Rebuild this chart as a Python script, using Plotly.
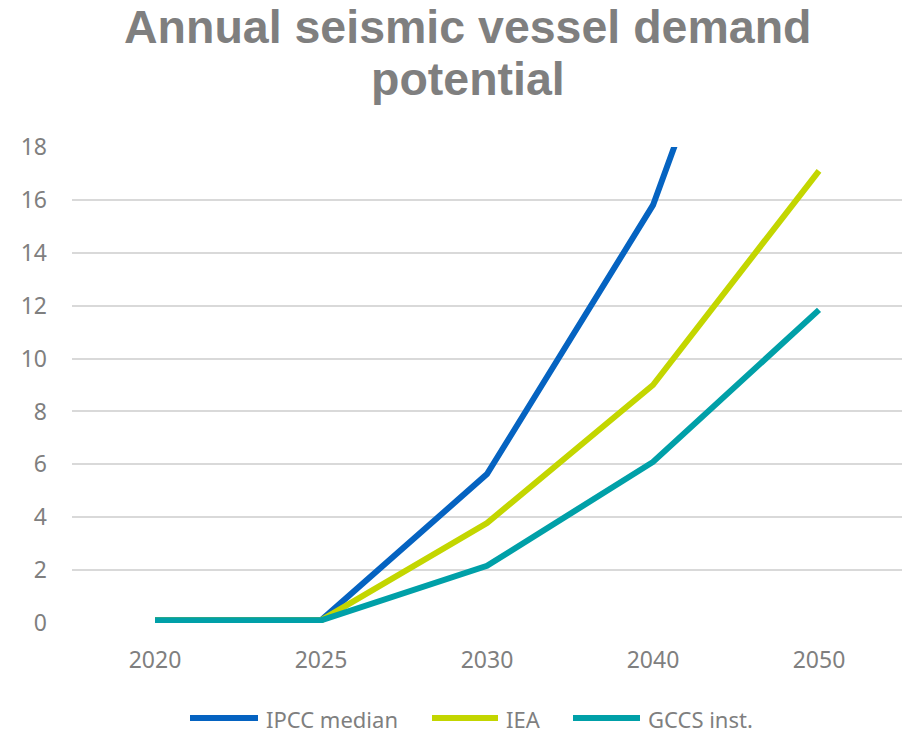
import plotly.graph_objects as go

years = ["2020", "2025", "2030", "2040", "2050"]
ipcc_median = [0.1, 0.1, 5.63, 15.8, 33.0]
iea = [0.1, 0.1, 3.78, 9.0, 17.1]
gccs_inst = [0.1, 0.1, 2.16, 6.09, 11.84]
y_ticks = [0, 2, 4, 6, 8, 10, 12, 14, 16, 18]
series_names = ["IPCC median", "IEA", "GCCS inst."]
series_colors = ["#0563C1", "#C3D600", "#00A0A8"]
series_values = [ipcc_median, iea, gccs_inst]

W, H = 902, 736
ML, MR, MT, MB = 72, 0, 147, 113
PW, PH = W - ML - MR, H - MT - MB

fig = go.Figure()
for name, vals, color in zip(series_names, series_values, series_colors):
    fig.add_trace(go.Scatter(
        x=years, y=vals, name=name, mode="lines",
        line=dict(color=color, width=6), showlegend=False,
    ))

tick_font = dict(family="Noto Sans", size=23, color="#7F7F7F")
title_font = dict(family="Liberation Sans", size=46.5, color="#7F7F7F", weight="bold")

def px_x(x):
    return (x - ML) / PW

def px_y(y):
    return (H - MB - y) / PH

annotations = [
    dict(text="Annual seismic vessel demand", x=px_x(467), y=px_y(27),
         xref="paper", yref="paper", xanchor="center", yanchor="middle",
         showarrow=False, font=title_font),
    dict(text="potential", x=px_x(468), y=px_y(79),
         xref="paper", yref="paper", xanchor="center", yanchor="middle",
         showarrow=False, font=title_font),
]

# custom legend (long line symbols like the original)
legend_items = [(190, 258, 264), (432, 498, 504), (573, 640, 646)]
shapes = []
leg_y = 718
for (x0, x1, xt), name, color in zip(legend_items, series_names, series_colors):
    shapes.append(dict(type="line", xref="paper", yref="paper",
                       x0=px_x(x0), x1=px_x(x1), y0=px_y(leg_y), y1=px_y(leg_y),
                       line=dict(color=color, width=6)))
    annotations.append(dict(text=name, x=px_x(xt), y=px_y(leg_y + 1),
                            xref="paper", yref="paper", xanchor="left",
                            yanchor="middle", showarrow=False,
                            font=dict(family="Noto Sans", size=22, color="#7F7F7F")))

fig.update_layout(
    width=W, height=H,
    paper_bgcolor="white", plot_bgcolor="white",
    margin=dict(l=ML, r=MR, t=MT, b=MB, autoexpand=False),
    showlegend=False,
    annotations=annotations,
    shapes=shapes,
    xaxis=dict(
        type="category", range=[-0.5, 4.5], showgrid=False, zeroline=False,
        showline=False, ticks="", tickfont=tick_font, ticklabelstandoff=21,
        automargin=False,
    ),
    yaxis=dict(
        range=[0, 18], tickvals=y_ticks, showgrid=True, gridcolor="#D9D9D9",
        gridwidth=2, zeroline=False, showline=False, ticks="",
        tickfont=tick_font, ticklabelstandoff=24, automargin=False,
    ),
)

fig.write_html("out.html", config={"displayModeBar": False},
               post_script="document.body.style.margin='0';")
